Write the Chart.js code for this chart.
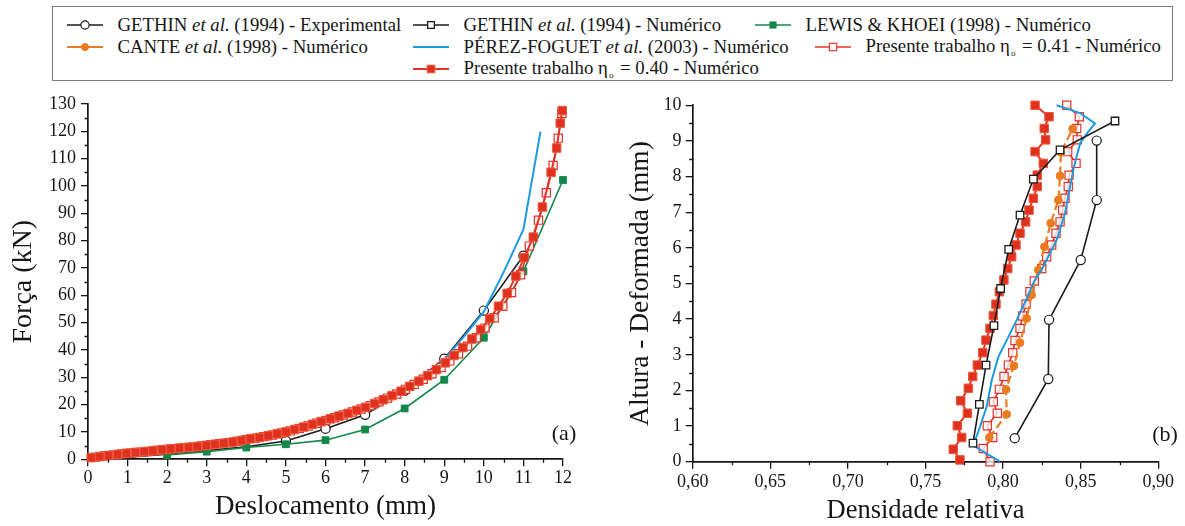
<!DOCTYPE html>
<html>
<head>
<meta charset="utf-8">
<script src="https://cdn.jsdelivr.net/npm/chart.js@4.4.1/dist/chart.umd.min.js"></script>
<style>
  html, body { margin: 0; padding: 0; background: #fff; }
  body { width: 1185px; height: 526px; position: relative; overflow: hidden;
         font-family: "Liberation Serif", "Times New Roman", serif; color: #111; }
  #legend { position: absolute; left: 52px; top: 6px; width: 1121px; height: 75px;
            border: 1.5px solid #7c7c7c; box-sizing: border-box; }
  .item { position: absolute; height: 22px; display: flex; align-items: center;
          white-space: nowrap; font-size: 18.8px; color: #161616;
          font-family: "Liberation Serif", "Times New Roman", serif; }
  .item span { font-family: "Liberation Serif", "Times New Roman", serif; }
  .item svg { margin-right: 15px; flex: none; }
  .item sub { font-size: 9px; vertical-align: -4px; margin-left: 1px; margin-right: 2px; }
  canvas { position: absolute; }
</style>
</head>
<body>
<div id="legend"></div>
<canvas id="chartA" width="600" height="436" style="left:0px;top:90px;"></canvas>
<canvas id="chartB" width="585" height="436" style="left:600px;top:90px;"></canvas>

<script>
// ---------- series names ----------
const seriesNames = [
  'GETHIN et al. (1994) - Experimental',
  'GETHIN et al. (1994) - Numérico',
  'LEWIS & KHOEI (1998) - Numérico',
  'CANTE et al. (1998) - Numérico',
  'PÉREZ-FOGUET et al. (2003) - Numérico',
  'Presente trabalho η_o = 0.41 - Numérico',
  'Presente trabalho η_o = 0.40 - Numérico'
];

// ---------- (a) força x deslocamento ----------
// the first experimental readings (x < 5) are drawn as line only
const gethinExpA_x = [0, 1, 2, 3, 4, 5, 6, 7, 8, 9, 10, 11];
const gethinExpA_y = [0.0, 0.8, 1.9, 3.2, 4.6, 6.7, 11.2, 16.3, 25.1, 36.8, 54.4, 74.5];
const gethinExpA_firstMarkedX = 5;

const lewisA_x = [2, 3, 4, 5, 6, 7, 8, 9, 10, 11, 12];
const lewisA_y = [1.6, 2.8, 4.3, 5.5, 7.0, 10.9, 18.6, 29.1, 44.5, 68.8, 102.2];

const perezA_x = [0, 1, 2, 3, 4, 5, 6, 7, 8, 8.5, 9, 9.5, 10, 10.5, 11, 11.43];
const perezA_y = [0.5, 2.3, 3.8, 5.3, 7.3, 10.0, 14.2, 19.0, 25.5, 30.5, 36.5, 45.0, 54.0, 68.5, 84.1, 119.9];

const pres041A_x = [0.19, 0.41, 0.64, 0.86, 1.08, 1.31, 1.53, 1.76, 1.98, 2.20, 2.43, 2.65, 2.87, 3.10,
  3.32, 3.55, 3.77, 3.99, 4.22, 4.44, 4.66, 4.89, 5.11, 5.34, 5.56, 5.78, 6.01, 6.23, 6.45, 6.68,
  6.90, 7.13, 7.35, 7.57, 7.80, 8.02, 8.24, 8.47, 8.69, 8.92, 9.14, 9.36, 9.59, 9.81, 10.03, 10.26,
  10.48, 10.70, 10.93, 11.15, 11.38, 11.58, 11.75, 11.88, 11.97];
const pres041A_y = [0.8, 1.2, 1.6, 2.0, 2.3, 2.6, 2.9, 3.3, 3.6, 3.9, 4.2, 4.5, 4.9, 5.3,
  5.7, 6.1, 6.6, 7.2, 7.7, 8.3, 8.9, 9.6, 10.4, 11.3, 12.2, 13.2, 14.2, 15.2, 16.2, 17.3,
  18.4, 19.6, 21.0, 22.4, 23.9, 25.6, 27.4, 29.3, 31.3, 33.6, 36.0, 38.6, 41.4, 44.5, 48.0, 51.8,
  56.0, 61.0, 67.5, 78.0, 87.5, 97.5, 107.5, 117.5, 126.5];

const pres040A_x = [0.08, 0.30, 0.52, 0.75, 0.97, 1.20, 1.42, 1.64, 1.87, 2.09, 2.31, 2.54, 2.76, 2.99,
  3.21, 3.43, 3.66, 3.88, 4.10, 4.33, 4.55, 4.78, 5.00, 5.22, 5.45, 5.67, 5.89, 6.12, 6.34, 6.57,
  6.79, 7.01, 7.24, 7.46, 7.68, 7.91, 8.13, 8.36, 8.58, 8.80, 9.03, 9.25, 9.47, 9.70, 9.92, 10.15,
  10.37, 10.59, 10.81, 11.02, 11.25, 11.48, 11.70, 11.84, 11.93, 11.98];
const pres040A_y = [0.6, 1.0, 1.4, 1.8, 2.2, 2.5, 2.8, 3.1, 3.5, 3.8, 4.1, 4.4, 4.7, 5.1,
  5.5, 5.9, 6.3, 6.9, 7.5, 8.0, 8.6, 9.3, 10.0, 10.9, 11.8, 12.8, 13.8, 14.8, 15.8, 16.8,
  17.9, 19.0, 20.4, 21.8, 23.3, 24.9, 26.7, 28.6, 30.6, 32.8, 35.3, 38.0, 40.9, 44.0, 47.5, 51.5,
  56.0, 60.7, 67.0, 73.8, 81.3, 92.3, 105.0, 113.9, 123.0, 127.6];

const ticksA_x = [0, 1, 2, 3, 4, 5, 6, 7, 8, 9, 10, 11, 12];
const ticksA_y = [0, 10, 20, 30, 40, 50, 60, 70, 80, 90, 100, 110, 120, 130];

// ---------- (b) altura x densidade relativa ----------
const gethinExpB_x = [0.8075, 0.8291, 0.8296, 0.8500, 0.8603, 0.8603];
const gethinExpB_y = [0.66, 2.32, 3.98, 5.66, 7.34, 9.01];

const gethinNumB_x = [0.7806, 0.7847, 0.7890, 0.7941, 0.7984, 0.8036, 0.8109, 0.8195, 0.8367, 0.8721];
const gethinNumB_y = [0.52, 1.61, 2.71, 3.82, 4.86, 5.96, 6.92, 7.93, 8.75, 9.56];

const canteB_x = [0.7911, 0.8023, 0.8019, 0.8070, 0.8109, 0.8152, 0.8184, 0.8227, 0.8266, 0.8307,
  0.8356, 0.8367, 0.8373, 0.8448];
const canteB_y = [0.68, 1.33, 2.03, 2.69, 3.34, 4.02, 4.68, 5.38, 6.03, 6.69, 7.34, 8.02, 8.68, 9.34];

const perezB_x = [0.7980, 0.7808, 0.7851, 0.7894, 0.7927, 0.7970, 0.8019, 0.8088, 0.8152, 0.8199,
  0.8259, 0.8345, 0.8399, 0.8427, 0.8457, 0.8496, 0.8549, 0.8592, 0.8496, 0.8345];
const perezB_y = [0.00, 0.45, 0.98, 1.54, 2.29, 2.95, 3.37, 3.98, 4.58, 5.05,
  5.47, 6.22, 6.97, 7.62, 8.28, 8.93, 9.26, 9.49, 9.78, 10.00];

const pres041B_x = [0.7916, 0.7872, 0.7933, 0.7898, 0.7963, 0.7937, 0.7976, 0.8006, 0.8034, 0.8062,
  0.8077, 0.8109, 0.8126, 0.8148, 0.8173, 0.8201, 0.8249, 0.8281, 0.8313, 0.8341, 0.8367, 0.8384,
  0.8399, 0.8420, 0.8425, 0.8470, 0.8416, 0.8478, 0.8474, 0.8491, 0.8410];
const pres041B_y = [0.00, 0.37, 0.68, 1.01, 1.36, 1.68, 2.03, 2.39, 2.71, 3.06,
  3.40, 3.74, 4.09, 4.42, 4.77, 5.07, 5.42, 5.75, 6.08, 6.41, 6.73, 7.06,
  7.39, 7.72, 8.04, 8.37, 8.70, 9.03, 9.35, 9.68, 10.00];

const pres040B_x = [0.7722, 0.7679, 0.7733, 0.7705, 0.7770, 0.7727, 0.7776, 0.7804, 0.7834, 0.7869,
  0.7890, 0.7916, 0.7937, 0.7954, 0.7976, 0.8005, 0.8030, 0.8055, 0.8083, 0.8109, 0.8145, 0.8167,
  0.8195, 0.8220, 0.8220, 0.8259, 0.8206, 0.8274, 0.8265, 0.8296, 0.8206];
const pres040B_y = [0.05, 0.35, 0.68, 1.01, 1.36, 1.71, 2.06, 2.39, 2.71, 3.06,
  3.41, 3.74, 4.10, 4.42, 4.77, 5.10, 5.42, 5.75, 6.08, 6.41, 6.73, 7.06,
  7.39, 7.72, 8.04, 8.37, 8.70, 9.03, 9.35, 9.68, 10.00];

const ticksB_x = ['0,60', '0,65', '0,70', '0,75', '0,80', '0,85', '0,90'];
const ticksB_y = [0, 1, 2, 3, 4, 5, 6, 7, 8, 9, 10];

// ---------- styles ----------
const FONT = '"Liberation Serif", "Times New Roman", serif';
const INK = '#161616';
const C_BLACK = '#1b1b1b';
const C_GREEN = '#13884a';
const C_ORANGE = '#ec7b1f';
const C_BLUE = '#1e9ae0';
const C_RED = '#e2332a';
const C_RED_FILL = '#e0301e';

const zip = (xs, ys) => xs.map((x, i) => ({ x, y: ys[i] }));

const styles = [
  { color: C_BLACK, width: 1.6, point: 'circle', r: 4.6, fill: '#ffffff', pbw: 1.2 },
  { color: C_BLACK, width: 1.6, point: 'rect', r: 5.3, fill: '#ffffff', pbw: 1.3 },
  { color: C_GREEN, width: 1.6, point: 'rect', r: 4.8, fill: C_GREEN, pbw: 1 },
  { color: C_ORANGE, width: 2.2, point: 'circle', r: 3.9, fill: C_ORANGE, pbw: 1, dash: [8, 4] },
  { color: C_BLUE, width: 2, point: false, r: 0, fill: C_BLUE, pbw: 0 },
  { color: C_RED, width: 1.7, point: 'rect', r: 5.8, fill: 'rgba(255,255,255,0.75)', pbw: 1.2 },
  { color: C_RED, width: 2, point: 'rect', r: 6, fill: C_RED_FILL, pbw: 1, pborder: '#ec5a3c' }
];

function dataset(idx, data, order, extra) {
  const s = styles[idx];
  return Object.assign({
    label: seriesNames[idx].replace('η_o', 'η₀'),
    data,
    showLine: true,
    order,
    borderColor: s.color,
    borderWidth: s.width,
    borderDash: s.dash || [],
    pointStyle: s.point,
    pointRadius: s.r,
    pointHoverRadius: s.r,
    pointBackgroundColor: s.fill,
    pointBorderColor: s.pborder || s.color,
    pointBorderWidth: s.pbw,
    tension: 0,
    clip: false
  }, extra || {});
}

// short intermediate tick marks, placed through the chart's own scales
const minorTicks = {
  id: 'minorTicks',
  afterDraw(chart, args, opts) {
    const { ctx } = chart;
    const xs = chart.scales.x, ys = chart.scales.y;
    ctx.save();
    ctx.strokeStyle = INK;
    ctx.lineWidth = 1.3;
    ctx.beginPath();
    for (let v = xs.min + opts.xStep / 2; v < xs.max; v += opts.xStep) {
      const px = Math.round(xs.getPixelForValue(v)) + 0.5;
      ctx.moveTo(px, xs.top);
      ctx.lineTo(px, xs.top + opts.len);
    }
    for (let v = ys.min + opts.yStep / 2; v < ys.max; v += opts.yStep) {
      const py = Math.round(ys.getPixelForValue(v)) + 0.5;
      ctx.moveTo(ys.right, py);
      ctx.lineTo(ys.right - opts.len, py);
    }
    ctx.stroke();
    ctx.restore();
  }
};

// panel letter in the lower right corner
const panelTag = {
  id: 'panelTag',
  afterDraw(chart, args, opts) {
    const { ctx, chartArea } = chart;
    ctx.save();
    ctx.fillStyle = INK;
    ctx.font = '22px ' + FONT;
    ctx.textAlign = 'center';
    ctx.textBaseline = 'middle';
    ctx.fillText(opts.text, chartArea.right + opts.dx, chartArea.bottom - opts.dy);
    ctx.restore();
  }
};

function axis(cfg) {
  return {
    type: 'linear',
    min: cfg.min, max: cfg.max,
    ticks: {
      stepSize: cfg.step,
      autoSkip: false,
      maxRotation: 0,
      color: INK,
      padding: cfg.tickPad,
      font: { family: FONT, size: 18, lineHeight: 1 },
      callback: cfg.label
    },
    grid: { display: true, drawOnChartArea: false, drawTicks: true, tickLength: 7,
            color: INK, lineWidth: 1.3 },
    border: { display: true, color: INK, width: 1.7 },
    title: { display: true, text: cfg.title, color: INK,
             font: { family: FONT, size: cfg.titleSize, lineHeight: 1 },
             padding: cfg.titlePad },
    afterFit(scale) {
      if (cfg.horizontal) scale.height = cfg.thick; else scale.width = cfg.thick;
    }
  };
}

const common = {
  responsive: false,
  animation: false,
  devicePixelRatio: 1,
  events: [],
  plugins: { legend: { display: false }, tooltip: { enabled: false } }
};

// (a)
new Chart(document.getElementById('chartA'), {
  type: 'scatter',
  data: {
    datasets: [
      dataset(6, zip(pres040A_x, pres040A_y), 0),
      dataset(5, zip(pres041A_x, pres041A_y), 1),
      dataset(2, zip(lewisA_x, lewisA_y), 2),
      dataset(4, zip(perezA_x, perezA_y), 3),
      dataset(0, zip(gethinExpA_x, gethinExpA_y), 4, {
        pointRadius: (c) => (c.raw && c.raw.x >= gethinExpA_firstMarkedX ? styles[0].r : 0)
      })
    ]
  },
  options: Object.assign({}, common, {
    layout: { padding: { left: 0, top: 14, right: 37, bottom: 0 } },
    scales: {
      x: axis({ horizontal: true, min: ticksA_x[0], max: ticksA_x[ticksA_x.length - 1], step: 1,
                tickPad: 3, title: 'Deslocamento (mm)', titleSize: 27,
                titlePad: { top: 0, bottom: 5.5 }, thick: 66.7,
                label: (v) => String(v) }),
      y: axis({ horizontal: false, min: ticksA_y[0], max: ticksA_y[ticksA_y.length - 1], step: 10,
                tickPad: 5, title: 'Força (kN)', titleSize: 28,
                titlePad: { top: 10, bottom: 0 }, thick: 88,
                label: (v) => String(v) })
    },
    plugins: Object.assign({}, common.plugins, {
      minorTicks: { xStep: 1, yStep: 10, len: 3.5 },
      panelTag: { text: '(a)', dx: 1, dy: 25 }
    })
  }),
  plugins: [minorTicks, panelTag]
});

// (b)
new Chart(document.getElementById('chartB'), {
  type: 'scatter',
  data: {
    datasets: [
      dataset(0, zip(gethinExpB_x, gethinExpB_y), 0),
      dataset(1, zip(gethinNumB_x, gethinNumB_y), 1),
      dataset(4, zip(perezB_x, perezB_y), 2),
      dataset(3, zip(canteB_x, canteB_y), 3),
      dataset(5, zip(pres041B_x, pres041B_y), 4),
      dataset(6, zip(pres040B_x, pres040B_y), 5)
    ]
  },
  options: Object.assign({}, common, {
    layout: { padding: { left: 0, top: 15.3, right: 26.7, bottom: 0 } },
    scales: {
      x: axis({ horizontal: true, min: 0.6, max: 0.9, step: 0.05,
                tickPad: 5, title: 'Densidade relativa', titleSize: 26.5,
                titlePad: { top: 0, bottom: 1.5 }, thick: 64.3,
                label: (v, i) => ticksB_x[i] }),
      y: axis({ horizontal: false, min: ticksB_y[0], max: ticksB_y[ticksB_y.length - 1], step: 1,
                tickPad: 4.3, title: 'Altura - Deformada (mm)', titleSize: 27.5,
                titlePad: { top: 27.5, bottom: 0 }, thick: 92.7,
                label: (v) => String(v) })
    },
    plugins: Object.assign({}, common.plugins, {
      minorTicks: { xStep: 0.05, yStep: 1, len: 3.5 },
      panelTag: { text: '(b)', dx: 6.7, dy: 26.7 }
    })
  }),
  plugins: [minorTicks, panelTag]
});

// ---------- legend ----------
const legendSlots = [
  { s: 0, x: 67, y: 25 },
  { s: 1, x: 413, y: 25 },
  { s: 2, x: 755, y: 25 },
  { s: 3, x: 67, y: 47 },
  { s: 4, x: 413, y: 47 },
  { s: 5, x: 815, y: 47 },
  { s: 6, x: 413, y: 69 }
];

function sample(st) {
  const w = 36, h = 14, cy = 7, cx = 18;
  let mark = '';
  if (st.point === 'circle') {
    mark = `<circle cx="${cx}" cy="${cy}" r="${st.r * 0.9}" fill="${st.fill}" stroke="${st.color}" stroke-width="${st.pbw}"/>`;
  } else if (st.point === 'rect') {
    const half = st.r * Math.SQRT1_2 * 0.9;
    const fill = st.fill.startsWith('rgba') ? '#ffffff' : st.fill;
    mark = `<rect x="${cx - half}" y="${cy - half}" width="${2 * half}" height="${2 * half}" fill="${fill}" stroke="${st.pborder || st.color}" stroke-width="${st.pbw}"/>`;
  }
  return `<svg width="${w}" height="${h}" viewBox="0 0 ${w} ${h}"><line x1="0" y1="${cy}" x2="${w}" y2="${cy}" stroke="${st.color}" stroke-width="${st.width}"/>${mark}</svg>`;
}

function richName(name) {
  return name.replace('&', '&amp;')
             .replace('et al.', '<i>et al.</i>')
             .replace('η_o', 'η<sub>o</sub>');
}

const legendEl = document.getElementById('legend');
const BOX_X = 52 + 1.5, BOX_Y = 6 + 1.5;
legendSlots.forEach((slot) => {
  const div = document.createElement('div');
  div.className = 'item';
  div.style.left = (slot.x - BOX_X) + 'px';
  div.style.top = (slot.y - BOX_Y - 11) + 'px';
  div.innerHTML = sample(styles[slot.s]) + '<span>' + richName(seriesNames[slot.s]) + '</span>';
  legendEl.appendChild(div);
});
</script>
</body>
</html>
